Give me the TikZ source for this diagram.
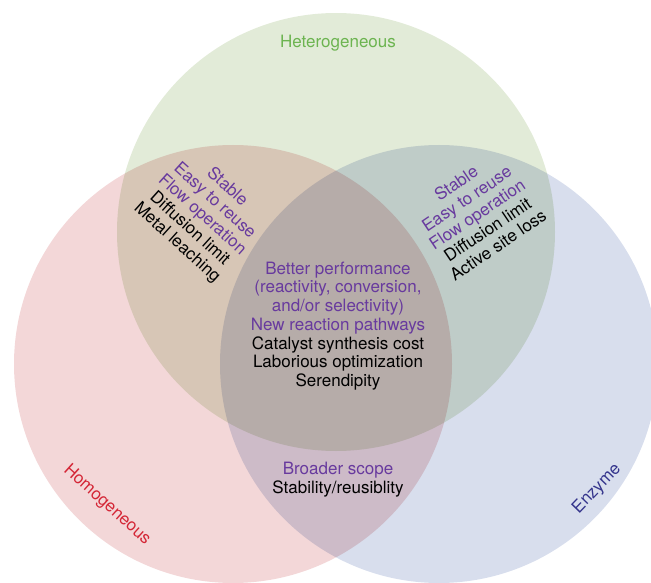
\documentclass[tikz,border=0pt]{standalone}
\usepackage{fontspec}
\setmainfont{TeX Gyre Heros}
\usetikzlibrary{calc}
\definecolor{hetfill}{RGB}{226,235,216}
\definecolor{homfill}{RGB}{243,215,216}
\definecolor{enzfill}{RGB}{216,222,237}
\definecolor{hettext}{RGB}{108,180,80}
\definecolor{homtext}{RGB}{212,38,54}
\definecolor{enztext}{RGB}{52,52,140}
\definecolor{propurple}{RGB}{104,58,158}
\tikzstyle{setname}=[font=\fontsize{17}{18.7}\selectfont, inner sep=0pt]
\tikzstyle{overlap}=[font=\fontsize{17}{18.7}\selectfont, align=center, inner sep=0pt, text=black]
\def\radius{219pt}
\newcommand{\pro}[1]{\textcolor{propurple}{#1}} % advantages are purple, drawbacks black
\newcommand{\drawset}[2]{ % Syntax: {fill colour}{centre}
	\fill[#1] (#2) circle (\radius);
}

\begin{document}
\begin{tikzpicture}[x=1pt,y=1pt]
	\useasboundingbox (0,0) rectangle (651,582);
	\clip (0,0) rectangle (651,582);
	\coordinate (het) at (336,350);
	\coordinate (hom) at (233,218);
	\coordinate (enz) at (439,218);
	\begin{scope}[blend group=multiply]
		\drawset{hetfill}{het}
		\drawset{homfill}{hom}
		\drawset{enzfill}{enz}
	\end{scope}
	% set names
	\node[setname, text=hettext] (hetname) at (338,539) {Heterogeneous};
	\node[setname, text=homtext, rotate=-42] (homname) at (107,77) {Homogeneous};
	\node[setname, text=enztext, rotate=46] (enzname) at (597,93) {Enzyme};
	% overlaps
	\node[overlap, rotate=-42] (hethom) at (202,367) {\pro{Stable}\\\pro{Easy to reuse}\\\pro{Flow operation}\\Diffusion limit\\Metal leaching};
	\node[overlap, rotate=34] (hetenz) at (477,368) {\pro{Stable}\\\pro{Easy to reuse}\\\pro{Flow operation}\\Diffusion limit\\Active site loss};
	\node[overlap] (all) at (338,256) {\pro{Better performance}\\\pro{(reactivity, conversion,}\\\pro{and/or selectivity)}\\\pro{New reaction pathways}\\Catalyst synthesis cost\\Laborious optimization\\Serendipity};
	\node[overlap] (homenz) at (338,102) {\pro{Broader scope}\\Stability/reusiblity};
\end{tikzpicture}
\end{document}
